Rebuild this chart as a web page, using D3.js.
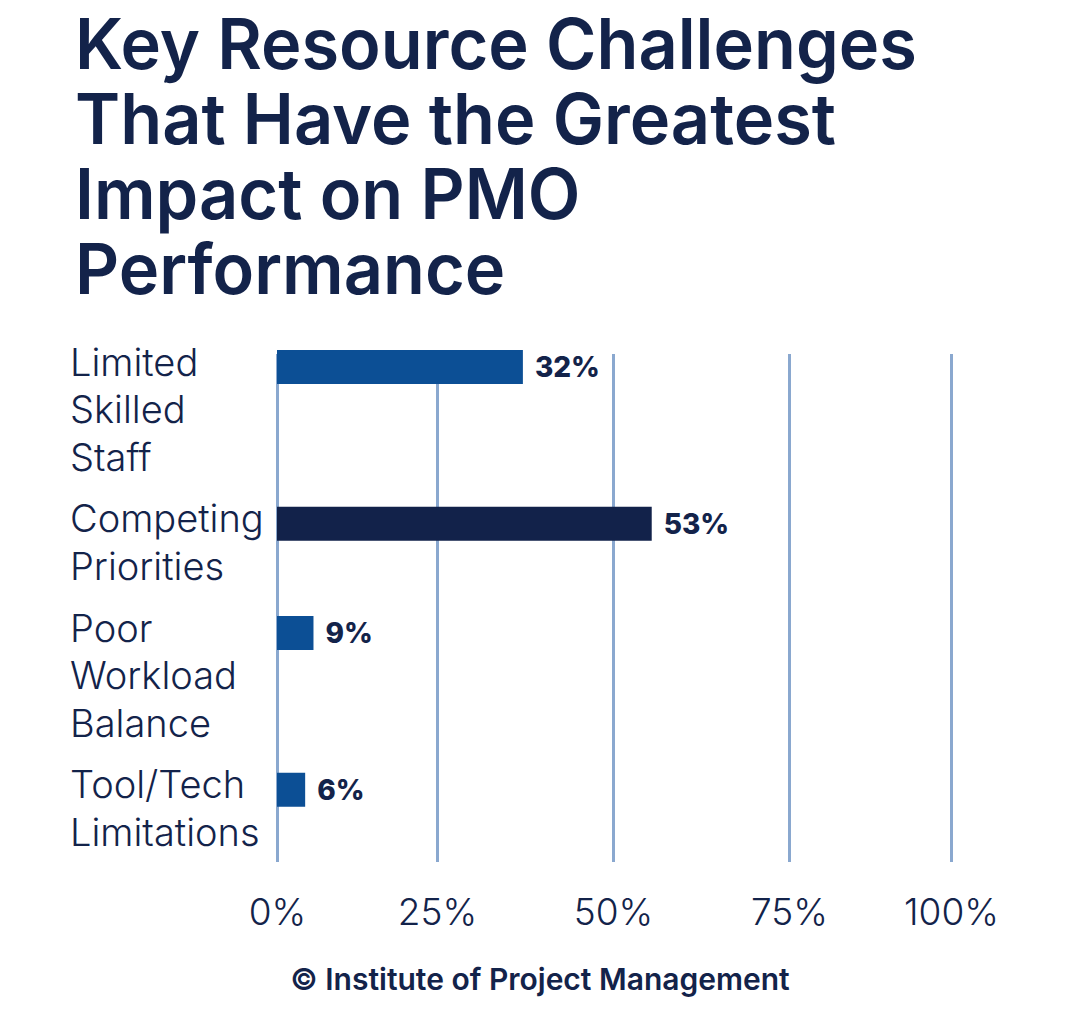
<!DOCTYPE html>
<html>
<head>
    <meta charset="utf-8">
    <title>Key Resource Challenges</title>
    <script src="https://d3js.org/d3.v7.min.js"></script>
    <style>
        body { margin: 0; background: #fff; }
        text { fill: #13234a; }
        .title { font-family: Inter, Roboto, sans-serif; font-weight: 600; font-size: 70px; }
        .cat { font-family: Inter, sans-serif; font-weight: 300; font-size: 38px; }
        .val { font-family: Inter, sans-serif; font-weight: 800; font-size: 28px; }
        .xAxis text { font-family: Inter, sans-serif; font-weight: 300; font-size: 37px; fill: #13234a; }
        .xAxis line { stroke: #8aa8cf; stroke-width: 3; }
        .footer { font-family: Inter, sans-serif; font-weight: 600; font-size: 30px; }
    </style>
</head>
<body>
<svg class="chart"></svg>
<script>
    // data
    var titleLines = ["Key Resource Challenges", "That Have the Greatest", "Impact on PMO", "Performance"]
    var categories = [
        ["Limited", "Skilled", "Staff"],
        ["Competing", "Priorities"],
        ["Poor", "Workload", "Balance"],
        ["Tool/Tech", "Limitations"]
    ]
    var valueLabels = ["32%", "53%", "9%", "6%"]
    // bar lengths as drawn (the source bars are not to scale with their labels)
    var barValues = [37.2, 55.5, 5.7, 4.4]
    var tickValues = [0, 25, 50, 75, 100]
    var footer = "\u00a9 Institute of Project Management"

    var width = 1080
    var height = 1011
    var lineH = 47.5
    var blockGap = 0.3   // gap between label blocks, in lines

    var svg = d3.select('.chart')
        .attr('width', width)
        .attr('height', height)

    // title, squeezed to the width of the original heading
    var title = svg.append('g')
        .attr('transform', 'translate(75,0)')
    var titleG = title.append('g')
    titleG.selectAll('text')
        .data(titleLines)
        .enter()
        .append('text')
        .attr('class', 'title')
        .attr('y', (d, i) => 69 + i * 75)
        .text(d => d)
    var firstLen = titleG.select('text').node().getComputedTextLength()
    titleG.attr('transform', 'scale(' + (842 / firstLen) + ',1)')

    // block starts in "line" units
    var starts = []
    var acc = 0
    categories.forEach(c => { starts.push(acc); acc += c.length + blockGap })
    var total = acc - blockGap

    var yLines = d3.scaleLinear()
        .domain([0, total])
        .range([338.25, 338.25 + total * lineH])

    // the source grid is not evenly spaced, so a polylinear scale
    var xChart = d3.scaleLinear()
        .domain(tickValues)
        .range([277, 437, 613, 789, 951])

    var gridTop = 354
    var gridBottom = 862

    // x axis with full height grid lines
    var xAxis = d3.axisBottom(xChart)
        .tickValues(tickValues)
        .tickFormat(d => d + '%')
        .tickSize(-(gridBottom - gridTop))
        .tickPadding(37)

    svg.append('g')
        .attr('class', 'xAxis')
        .attr('transform', 'translate(0,' + gridBottom + ')')
        .call(xAxis)
        .call(g => g.select('.domain').remove())

    // category labels
    var cats = svg.append('g')
    categories.forEach((lines, i) => {
        var t = cats.append('text')
            .attr('class', 'cat')
            .attr('x', 70)
        t.selectAll('tspan')
            .data(lines)
            .enter()
            .append('tspan')
            .attr('x', 70)
            .attr('y', (d, j) => yLines(starts[i] + j + 0.5))
            .attr('dy', '0.36em')
            .text(d => d)
    })

    // bars
    var maxVal = d3.max(barValues)
    var barH = 34
    var barY = i => yLines(starts[i] + 0.5) + 5

    svg.append('g')
        .selectAll('rect')
        .data(barValues)
        .enter()
        .append('rect')
        .attr('x', xChart(0))
        .attr('y', (d, i) => barY(i) - barH / 2)
        .attr('width', d => xChart(d) - xChart(0))
        .attr('height', barH)
        .attr('fill', d => d === maxVal ? '#12224a' : '#0c4f95')

    // value labels
    svg.append('g')
        .selectAll('text')
        .data(barValues)
        .enter()
        .append('text')
        .attr('class', 'val')
        .attr('x', d => xChart(d) + 12)
        .attr('y', (d, i) => barY(i))
        .attr('dy', '0.36em')
        .text((d, i) => valueLabels[i])

    // footer
    svg.append('text')
        .attr('class', 'footer')
        .attr('x', width / 2)
        .attr('y', 990)
        .attr('text-anchor', 'middle')
        .text(footer)
</script>
</body>
</html>
